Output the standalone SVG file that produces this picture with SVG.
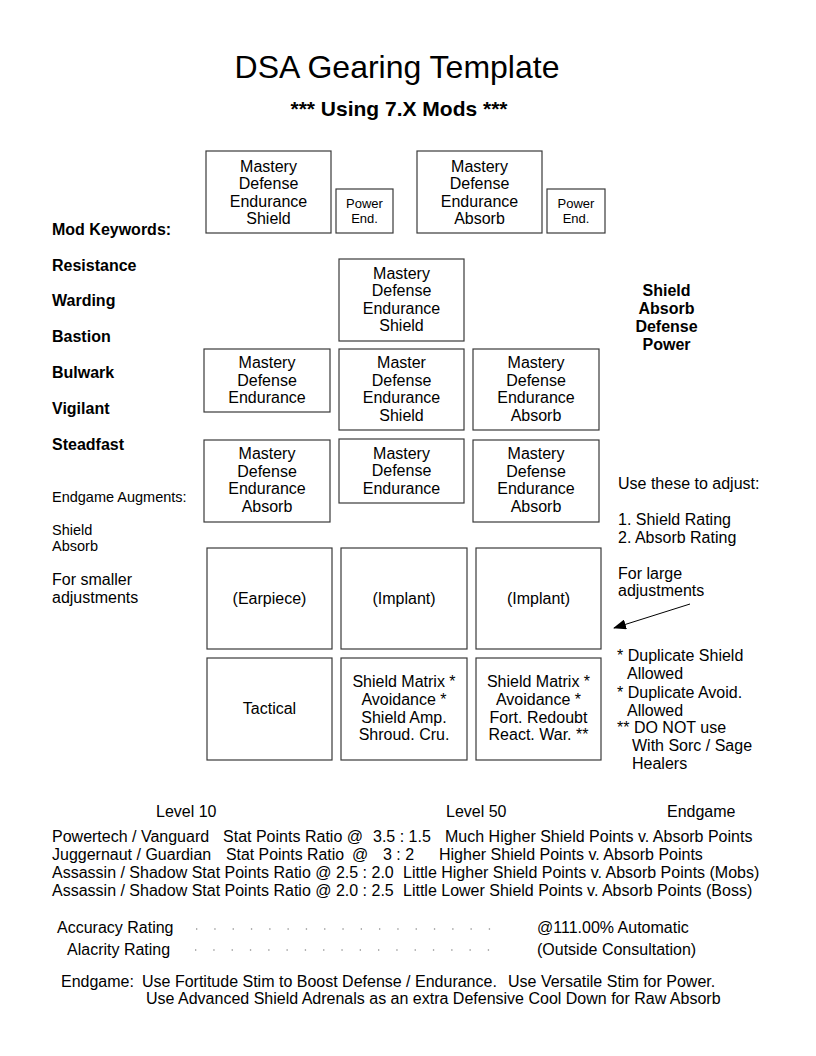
<svg xmlns="http://www.w3.org/2000/svg" width="816" height="1056" viewBox="0 0 816 1056">
<defs>
<style>
text{font-family:"Liberation Sans",Arial,sans-serif;fill:#000;}
.box{fill:#fff;stroke:#3a3a3a;stroke-width:1.2;}
.bt{font-size:16px;text-anchor:middle;}
.pt{font-size:13px;text-anchor:middle;}
.lb{font-size:16px;font-weight:bold;}
.t16{font-size:16px;}
.t14{font-size:14.5px;}
.dots{stroke:#999;stroke-width:1.3;stroke-dasharray:1.3 17;fill:none;}
</style>
<marker id="ah" markerWidth="13" markerHeight="10" refX="12" refY="5" orient="auto" markerUnits="userSpaceOnUse">
<path d="M0,0 L13,5 L0,10 z" fill="#000"/>
</marker>
</defs>
<rect width="816" height="1056" fill="#fff"/>

<g id="title">
<text x="397" y="78" style="font-size:32px;text-anchor:middle">DSA Gearing Template</text>
<text x="399" y="116" style="font-size:21px;font-weight:bold;text-anchor:middle">*** Using 7.X Mods ***</text>
</g>

<g id="top-left">
<rect class="box" x="206" y="151" width="125" height="82"/>
<text class="bt" x="268.5" y="171.5">Mastery</text>
<text class="bt" x="268.5" y="189">Defense</text>
<text class="bt" x="268.5" y="206.5">Endurance</text>
<text class="bt" x="268.5" y="224">Shield</text>
</g>
<g id="top-left-power">
<rect class="box" x="336" y="189" width="57" height="44"/>
<text class="pt" x="364.5" y="208">Power</text>
<text class="pt" x="364.5" y="222.5">End.</text>
</g>
<g id="top-right">
<rect class="box" x="417" y="151" width="125" height="82"/>
<text class="bt" x="479.5" y="171.5">Mastery</text>
<text class="bt" x="479.5" y="189">Defense</text>
<text class="bt" x="479.5" y="206.5">Endurance</text>
<text class="bt" x="479.5" y="224">Absorb</text>
</g>
<g id="top-right-power">
<rect class="box" x="547" y="189" width="58" height="44"/>
<text class="pt" x="576" y="208">Power</text>
<text class="pt" x="576" y="222.5">End.</text>
</g>

<g id="mid-top">
<rect class="box" x="339" y="259" width="125" height="82"/>
<text class="bt" x="401.5" y="278.5">Mastery</text>
<text class="bt" x="401.5" y="296">Defense</text>
<text class="bt" x="401.5" y="313.5">Endurance</text>
<text class="bt" x="401.5" y="331">Shield</text>
</g>

<g id="r2-left">
<rect class="box" x="204" y="349" width="126" height="63"/>
<text class="bt" x="267" y="368">Mastery</text>
<text class="bt" x="267" y="385.5">Defense</text>
<text class="bt" x="267" y="403">Endurance</text>
</g>
<g id="r2-center">
<rect class="box" x="339" y="349" width="125" height="81"/>
<text class="bt" x="401.5" y="368">Master</text>
<text class="bt" x="401.5" y="385.5">Defense</text>
<text class="bt" x="401.5" y="403">Endurance</text>
<text class="bt" x="401.5" y="421">Shield</text>
</g>
<g id="r2-right">
<rect class="box" x="473" y="349" width="126" height="81"/>
<text class="bt" x="536" y="368">Mastery</text>
<text class="bt" x="536" y="385.5">Defense</text>
<text class="bt" x="536" y="403">Endurance</text>
<text class="bt" x="536" y="421">Absorb</text>
</g>

<g id="r3-left">
<rect class="box" x="204" y="440" width="126" height="82"/>
<text class="bt" x="267" y="459">Mastery</text>
<text class="bt" x="267" y="476.5">Defense</text>
<text class="bt" x="267" y="494">Endurance</text>
<text class="bt" x="267" y="511.5">Absorb</text>
</g>
<g id="r3-center">
<rect class="box" x="339" y="439" width="125" height="64"/>
<text class="bt" x="401.5" y="458.5">Mastery</text>
<text class="bt" x="401.5" y="476">Defense</text>
<text class="bt" x="401.5" y="493.5">Endurance</text>
</g>
<g id="r3-right">
<rect class="box" x="473" y="440" width="126" height="82"/>
<text class="bt" x="536" y="459">Mastery</text>
<text class="bt" x="536" y="476.5">Defense</text>
<text class="bt" x="536" y="494">Endurance</text>
<text class="bt" x="536" y="511.5">Absorb</text>
</g>

<g id="earpiece">
<rect class="box" x="207" y="548" width="125" height="101"/>
<text class="bt" x="269.5" y="604">(Earpiece)</text>
</g>
<g id="implant1">
<rect class="box" x="341" y="548" width="126" height="101"/>
<text class="bt" x="404" y="604">(Implant)</text>
</g>
<g id="implant2">
<rect class="box" x="476" y="548" width="125" height="101"/>
<text class="bt" x="538.5" y="604">(Implant)</text>
</g>

<g id="tactical">
<rect class="box" x="207" y="658" width="125" height="102"/>
<text class="bt" x="269.5" y="714">Tactical</text>
</g>
<g id="relic1">
<rect class="box" x="341" y="658" width="126" height="102"/>
<text class="bt" x="404" y="687">Shield Matrix *</text>
<text class="bt" x="404" y="704.5">Avoidance *</text>
<text class="bt" x="404" y="722.5">Shield Amp.</text>
<text class="bt" x="404" y="740">Shroud. Cru.</text>
</g>
<g id="relic2">
<rect class="box" x="476" y="658" width="125" height="102"/>
<text class="bt" x="538.5" y="687">Shield Matrix *</text>
<text class="bt" x="538.5" y="704.5">Avoidance *</text>
<text class="bt" x="538.5" y="722.5">Fort. Redoubt</text>
<text class="bt" x="538.5" y="740">React. War. **</text>
</g>

<g id="left-labels">
<text class="lb" x="52" y="235">Mod Keywords:</text>
<text class="lb" x="52" y="271">Resistance</text>
<text class="lb" x="52" y="306">Warding</text>
<text class="lb" x="52" y="342">Bastion</text>
<text class="lb" x="52" y="377.5">Bulwark</text>
<text class="lb" x="52" y="413.5">Vigilant</text>
<text class="lb" x="52" y="449.5">Steadfast</text>
<text class="t14" x="52" y="502">Endgame Augments:</text>
<text class="t14" x="52" y="535">Shield</text>
<text class="t14" x="52" y="551">Absorb</text>
<text class="t16" x="52" y="585">For smaller</text>
<text class="t16" x="52" y="603">adjustments</text>
</g>

<g id="right-labels">
<text class="lb" x="666.5" y="296" text-anchor="middle">Shield</text>
<text class="lb" x="666.5" y="314" text-anchor="middle">Absorb</text>
<text class="lb" x="666.5" y="332" text-anchor="middle">Defense</text>
<text class="lb" x="666.5" y="349.5" text-anchor="middle">Power</text>
<text class="t16" x="618" y="488.5">Use these to adjust:</text>
<text class="t16" x="618" y="525">1. Shield Rating</text>
<text class="t16" x="618" y="543">2. Absorb Rating</text>
<text class="t16" x="618" y="578.5">For large</text>
<text class="t16" x="618" y="596">adjustments</text>
<text class="t16" x="617" y="661">* Duplicate Shield</text>
<text class="t16" x="627" y="679">Allowed</text>
<text class="t16" x="617" y="697.5">* Duplicate Avoid.</text>
<text class="t16" x="627" y="716">Allowed</text>
<text class="t16" x="617" y="732.5">** DO NOT use</text>
<text class="t16" x="632" y="751">With Sorc / Sage</text>
<text class="t16" x="632" y="768.5">Healers</text>
</g>

<g id="connectors">
<line x1="690" y1="604" x2="614" y2="628" stroke="#000" stroke-width="1" marker-end="url(#ah)"/>
</g>

<g id="ratios">
<text class="t16" x="156" y="817">Level 10</text>
<text class="t16" x="446" y="817">Level 50</text>
<text class="t16" x="667" y="817">Endgame</text>
<text class="t16" x="52" y="842">Powertech / Vanguard</text>
<text class="t16" x="223" y="842" textLength="140" lengthAdjust="spacingAndGlyphs">Stat Points Ratio @</text>
<text class="t16" x="373" y="842">3.5 : 1.5</text>
<text class="t16" x="445" y="842">Much Higher Shield Points v. Absorb Points</text>
<text class="t16" x="52" y="860">Juggernaut / Guardian</text>
<text class="t16" x="226" y="860" textLength="118" lengthAdjust="spacingAndGlyphs">Stat Points Ratio</text>
<text class="t16" x="352" y="860">@</text>
<text class="t16" x="383" y="860">3 : 2</text>
<text class="t16" x="439" y="860">Higher Shield Points v. Absorb Points</text>
<text class="t16" x="52" y="878">Assassin / Shadow Stat Points Ratio @ 2.5 : 2.0</text>
<text class="t16" x="403" y="878">Little Higher Shield Points v. Absorb Points (Mobs)</text>
<text class="t16" x="52" y="896">Assassin / Shadow Stat Points Ratio @ 2.0 : 2.5</text>
<text class="t16" x="403" y="896">Little Lower Shield Points v. Absorb Points (Boss)</text>
</g>

<g id="ratings">
<text class="t16" x="57" y="933">Accuracy Rating</text>
<line class="dots" x1="196" y1="929" x2="492" y2="929"/>
<text class="t16" x="537" y="933">@111.00% Automatic</text>
<text class="t16" x="67" y="955">Alacrity Rating</text>
<line class="dots" x1="195" y1="950" x2="492" y2="950"/>
<text class="t16" x="537" y="955">(Outside Consultation)</text>
</g>

<g id="endgame-note">
<text class="t16" x="61" y="987">Endgame:</text>
<text class="t16" x="142" y="987">Use Fortitude Stim to Boost Defense / Endurance.</text>
<text class="t16" x="508" y="987">Use Versatile Stim for Power.</text>
<text class="t16" x="146" y="1004">Use Advanced Shield Adrenals as an extra Defensive Cool Down for Raw Absorb</text>
</g>
</svg>
